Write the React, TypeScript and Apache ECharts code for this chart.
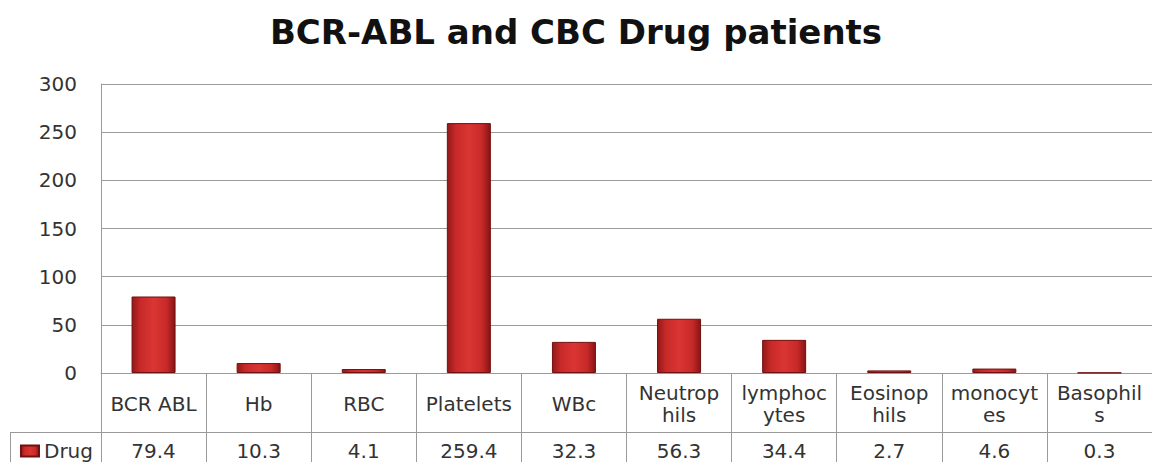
import React, { useEffect, useRef } from "react";
import * as echarts from "echarts";

const categories = ["BCR ABL", "Hb", "RBC", "Platelets", "WBc", "Neutrop\nhils", "lymphoc\nytes", "Eosinop\nhils", "monocyt\nes", "Basophil\ns"];
const drugValues = [79.4, 10.3, 4.1, 259.4, 32.3, 56.3, 34.4, 2.7, 4.6, 0.3];
const yTicks = [0, 50, 100, 150, 200, 250, 300];

export default function App() {
  const ref = useRef<HTMLDivElement>(null);
  useEffect(() => {
    if (!ref.current) return;
    const chart = echarts.init(ref.current, null, { renderer: "svg" });
    const font = "'DejaVu Sans', 'Open Sans', sans-serif";
    const lineColor = "#9a9a9a";
    const textColor = "#333333";
    chart.setOption({
      animation: false,
      backgroundColor: "#ffffff",
      textStyle: { fontFamily: font },
      title: {
        text: "BCR-ABL and CBC Drug patients",
        left: "center",
        top: 10,
        textStyle: { fontSize: 34, fontWeight: "bold", color: "#111", fontFamily: font },
      },
      legend: {
        data: ["Drug"],
        left: 20,
        top: 441,
        padding: 0,
        itemWidth: 18,
        itemHeight: 11,
        itemGap: 4,
        icon: "rect",
        textStyle: { fontSize: 20, color: textColor, fontFamily: font, padding: [0, 0, 0, 0] },
      },
      grid: { left: 101, right: -4, top: 84, bottom: 89 },
      xAxis: [
        {
          type: "category",
          data: categories,
          position: "bottom",
          axisLine: { show: true, lineStyle: { color: lineColor, width: 1 } },
          axisTick: { show: true, interval: 0, length: 89, lineStyle: { color: lineColor, width: 1 } },
          axisLabel: {
            interval: 0,
            margin: 31,
            verticalAlign: "middle",
            fontSize: 20,
            lineHeight: 22,
            color: textColor,
            fontFamily: font,
          },
        },
        {
          type: "category",
          data: drugValues.map((v) => v.toFixed(1)),
          position: "bottom",
          offset: 59,
          axisLine: { show: true, lineStyle: { color: lineColor, width: 1 } },
          axisTick: { show: false },
          axisLabel: {
            interval: 0,
            margin: 19,
            verticalAlign: "middle",
            fontSize: 20,
            color: textColor,
            fontFamily: font,
          },
        },
      ],
      yAxis: {
        type: "value",
        min: yTicks[0],
        max: yTicks[yTicks.length - 1],
        interval: 50,
        axisLine: { show: true, lineStyle: { color: lineColor, width: 1 } },
        axisTick: { show: false },
        axisLabel: { fontSize: 20, color: textColor, margin: 24, fontFamily: font },
        splitLine: { show: true, lineStyle: { color: lineColor, width: 1 } },
      },
      series: [
        {
          name: "Drug",
          type: "bar",
          xAxisIndex: 0,
          data: drugValues,
          barWidth: 44,
          itemStyle: {
            color: new echarts.graphic.LinearGradient(0, 0, 1, 0, [
              { offset: 0, color: "#941818" },
              { offset: 0.2, color: "#c82a29" },
              { offset: 0.5, color: "#d93533" },
              { offset: 0.8, color: "#c82a29" },
              { offset: 1, color: "#881414" },
            ]),
            borderColor: "#701010",
            borderWidth: 1,
          },
        },
      ],
      graphic: [
        { type: "line", shape: { x1: 10, y1: 432.5, x2: 101, y2: 432.5 }, style: { stroke: lineColor, lineWidth: 1 } },
        { type: "line", shape: { x1: 10.5, y1: 432, x2: 10.5, y2: 462 }, style: { stroke: lineColor, lineWidth: 1 } },
      ],
    });
    return () => chart.dispose();
  }, []);
  return <div ref={ref} style={{ width: 1152, height: 462, position: "absolute", left: 0, top: 0 }} />;
}
